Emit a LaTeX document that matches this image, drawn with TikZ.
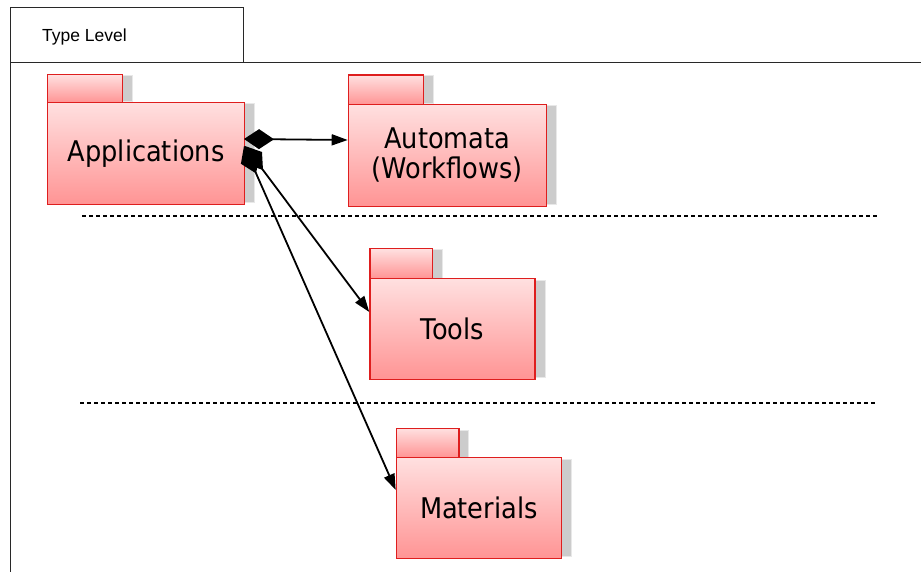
\documentclass[tikz,border=0pt]{standalone}
\usepackage{fontspec}
\setmainfont{DejaVu Sans}[FakeStretch=0.9]
\newfontfamily\arialfont{Liberation Sans}
\usetikzlibrary{arrows.meta}
\definecolor{pkgred}{RGB}{222,30,30}
\definecolor{pkgtop}{RGB}{255,224,224}
\definecolor{pkgbot}{RGB}{255,148,148}
\definecolor{shadowgray}{RGB}{204,204,204}
\definecolor{shadowlight}{RGB}{232,232,232}
\definecolor{framegray}{RGB}{40,40,40}
\begin{document}
\begin{tikzpicture}[x=1pt,y=-1pt,
  pkgbody/.style={draw=pkgred, line width=1.2pt, top color=pkgtop, bottom color=pkgbot,
    inner sep=0pt, anchor=north west, font=\fontsize{28.5}{30}\selectfont, align=center},
  pkgtab/.style={draw=pkgred, line width=1.2pt, top color=pkgtop, bottom color=pkgbot,
    inner sep=0pt, anchor=north west},
  shade/.style={fill=shadowgray, draw=shadowlight, line width=1pt},
  conn/.style={line width=1.8pt, {Diamond[length=30pt,width=20pt]}-{Triangle[length=16pt,width=11pt]}},
  divider/.style={line width=2pt, dash pattern=on 4pt off 3pt},
  frame/.style={draw=framegray, line width=1pt}]
\useasboundingbox (0,0) rectangle (921,572);
% frame
\draw[frame] (10,572) -- (10,8) -- (243,8) -- (243,63);
\draw[frame] (10,63) -- (921,63);
\node[font=\arialfont\fontsize{17.5}{20}\selectfont] (title) at (84.5,37) {Type Level};
% dividers
\draw[divider] (82,216) -- (877,216);
\draw[divider] (80,402.5) -- (876,402.5);
% shadows
\path[shade] (122,76) rectangle (132,102);
\path[shade] (244,104) rectangle (254,203);
\path[shade] (423,76) rectangle (433,104);
\path[shade] (546,106) rectangle (556,205);
\path[shade] (432,250) rectangle (442,278);
\path[shade] (534,280) rectangle (545,377);
\path[shade] (458,430) rectangle (468,457);
\path[shade] (561,459) rectangle (571,556);
% Applications
\node[pkgtab, minimum width=75pt, minimum height=28pt] (appstab) at (47,74) {};
\node[pkgbody, minimum width=197pt, minimum height=102pt] (apps) at (47,102) {Applications};
% Automata
\node[pkgtab, minimum width=75.5pt, minimum height=29.5pt] (autotab) at (347.7,74.5) {};
\node[pkgbody, minimum width=198pt, minimum height=101.7pt] (auto) at (347.7,104) {Automata\\(Workflows)};
% Tools
\node[pkgtab, minimum width=62.5pt, minimum height=29.4pt] (toolstab) at (369.3,248.3) {};
\node[pkgbody, minimum width=165pt, minimum height=101.3pt] (tools) at (369.3,277.7) {Tools};
% Materials
\node[pkgtab, minimum width=62.6pt, minimum height=29pt] (mattab) at (395.7,427.7) {};
\node[pkgbody, minimum width=165pt, minimum height=101pt] (mat) at (395.7,456.7) {Materials};
% connectors
\coordinate (s1) at (244,139);
\coordinate (e1) at (347.7,140);
\coordinate (s2) at (245,146);
\coordinate (e2) at (369.3,312);
\coordinate (s3) at (244,146);
\coordinate (e3) at (395.7,490);
\draw[conn] (s1) -- (e1);
\draw[conn] (s2) -- (e2);
\draw[conn] (s3) -- (e3);
\end{tikzpicture}
\end{document}
